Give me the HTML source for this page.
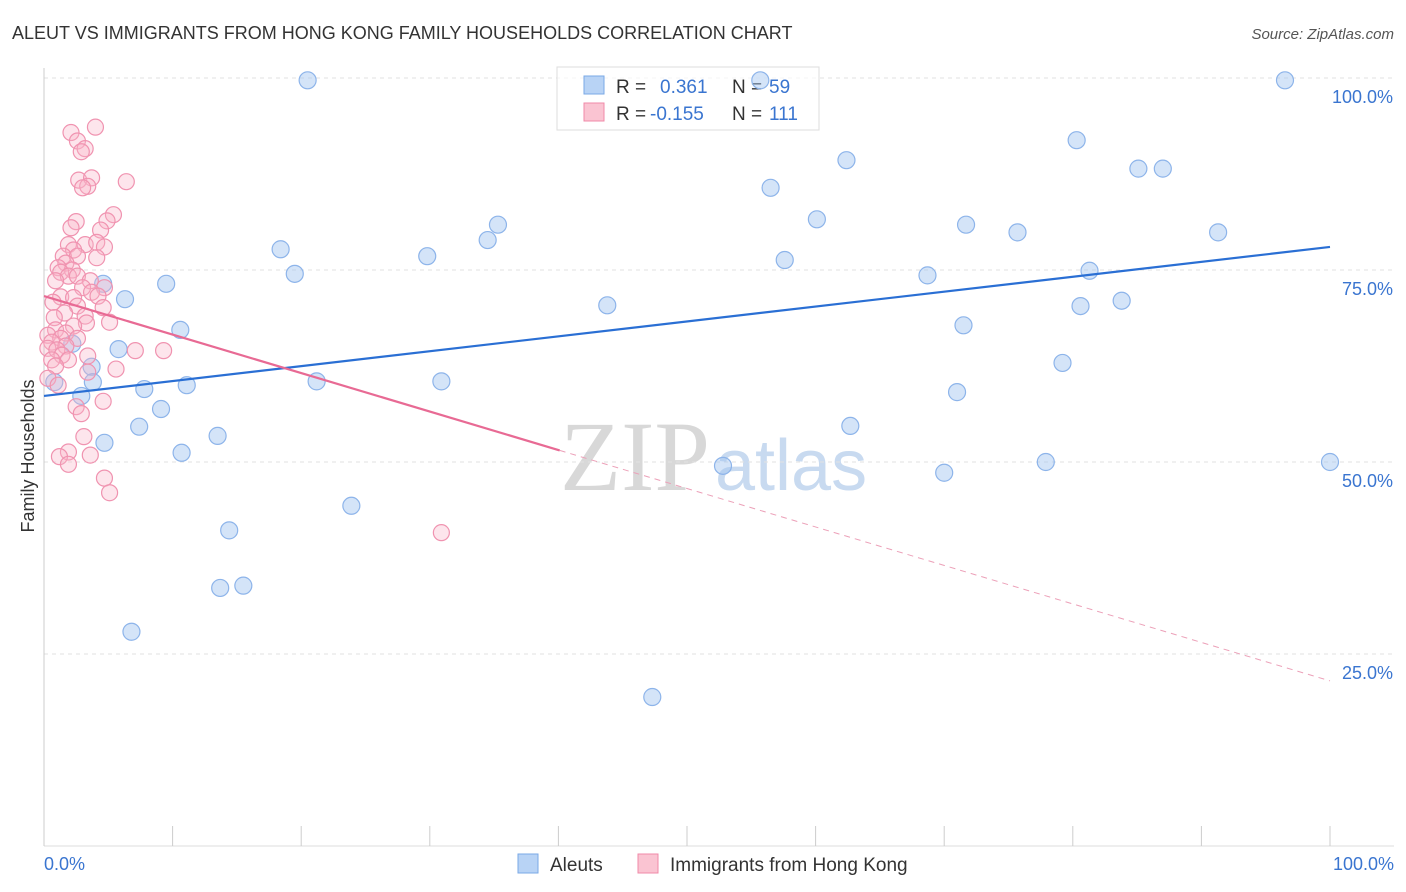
<!DOCTYPE html>
<html><head><meta charset="utf-8"><style>
body{margin:0;background:#fff;font-family:"Liberation Sans",sans-serif}
svg{display:block}
</style></head><body>
<svg id="chart" width="1406" height="892">
<text x="12" y="39" font-size="18" fill="#333">ALEUT VS IMMIGRANTS FROM HONG KONG FAMILY HOUSEHOLDS CORRELATION CHART</text>
<text x="1394" y="39" font-size="15" fill="#555" font-style="italic" text-anchor="end">Source: ZipAtlas.com</text>
<text x="560" y="490" font-size="100" fill="#d8d8d8" font-family="Liberation Serif,serif">ZIP</text>
<text x="715" y="490" font-size="72" fill="#c8daf0">atlas</text>
<text transform="translate(34,456) rotate(-90)" font-size="18" fill="#333" text-anchor="middle">Family Households</text>
<g id="grid"></g>
<g>
<rect x="557" y="67" width="262" height="63" fill="rgba(255,255,255,0.7)" stroke="#ddd"/>
<rect x="584" y="76" width="20" height="18" fill="#b8d3f5" stroke="#7aa8e6"/>
<rect x="584" y="103" width="20" height="18" fill="#fac4d2" stroke="#f08aa8"/>
<text x="616" y="93" font-size="19" fill="#333">R = </text><text x="660" y="93" font-size="19" fill="#3a75d0">0.361</text>
<text x="732" y="93" font-size="19" fill="#333">N = </text><text x="769" y="93" font-size="19" fill="#3a75d0">59</text>
<text x="616" y="120" font-size="19" fill="#333">R = </text><text x="650" y="120" font-size="19" fill="#3a75d0">-0.155</text>
<text x="732" y="120" font-size="19" fill="#333">N = </text><text x="769" y="120" font-size="19" fill="#3a75d0">111</text>
</g>
<g id="marks"></g>
<g>
<rect x="518" y="854" width="20" height="19" fill="#b8d3f5" stroke="#7aa8e6"/>
<text x="550" y="871" font-size="19" fill="#333">Aleuts</text>
<rect x="638" y="854" width="20" height="19" fill="#fac4d2" stroke="#f08aa8"/>
<text x="670" y="871" font-size="19" fill="#333">Immigrants from Hong Kong</text>
</g>
</svg>
<script>
const yTicks=[25,50,75,100];
const yTickLabels=["25.0%","50.0%","75.0%","100.0%"];
const xTicks=[0,10,20,30,40,50,60,70,80,90,100];
const aleutX=[20.5,55.7,96.5,80.3,62.4,85.1,87.0,56.5,35.3,60.1,71.7,75.7,91.3,34.5,18.4,29.8,57.6,19.5,68.7,81.3,9.5,4.6,6.3,83.8,80.6,43.8,10.6,71.5,2.2,5.8,79.2,3.7,21.2,30.9,3.8,11.1,7.8,71.0,2.9,9.1,7.4,62.7,13.5,4.7,10.7,77.9,100,52.8,70.0,23.9,14.4,13.7,15.5,6.8,47.3,0.8];
const aleutY=[99.7,99.7,99.7,91.9,89.3,88.2,88.2,85.7,80.9,81.6,80.9,79.9,79.9,78.9,77.7,76.8,76.3,74.5,74.3,74.9,73.2,73.2,71.2,71.0,70.3,70.4,67.2,67.8,65.4,64.7,62.9,62.4,60.5,60.5,60.4,60.0,59.5,59.1,58.6,56.9,54.6,54.7,53.4,52.5,51.2,50.0,50.0,49.5,48.6,44.3,41.1,33.6,33.9,27.9,19.4,60.4];
const hkX=[2.1,4.0,2.6,3.2,2.9,6.4,2.7,3.7,3.4,3.0,5.4,4.9,2.5,2.1,4.4,1.9,3.2,4.1,4.7,2.3,1.5,2.6,4.1,1.7,1.1,2.2,1.3,1.9,2.6,3.6,0.9,4.7,3.0,3.7,4.2,1.3,2.3,0.7,2.6,4.6,1.6,3.2,0.8,5.1,3.3,2.3,0.9,1.7,0.3,1.3,2.6,0.6,1.7,0.3,1.0,7.1,9.3,1.4,3.4,0.6,1.9,0.9,5.6,3.4,0.3,1.1,4.6,2.5,2.9,3.1,1.9,1.2,3.6,1.9,4.7,5.1,30.9];
const hkY=[92.9,93.6,91.8,90.8,90.4,86.5,86.7,87.0,85.9,85.7,82.2,81.4,81.3,80.5,80.2,78.3,78.3,78.6,78.0,77.6,76.8,76.8,76.6,75.9,75.3,75.0,74.7,74.2,74.2,73.6,73.6,72.7,72.7,72.1,71.6,71.5,71.4,70.8,70.3,70.1,69.4,69.0,68.8,68.2,68.1,67.7,67.2,66.8,66.5,66.1,66.1,65.6,65.1,64.8,64.6,64.5,64.5,63.9,63.8,63.3,63.3,62.5,62.1,61.7,60.9,60.0,57.9,57.2,56.3,53.3,51.3,50.7,50.9,49.7,47.9,46.0,40.8];
const blueTrend=[58.6,78.0];
const pinkTrend=[71.6,21.5];
const pinkSolidEnd=40.1;
const NS="http://www.w3.org/2000/svg";
const sx=v=>44+v*12.86, sy=v=>846-v*7.68;
function mk(tag,attrs,parent){const e=document.createElementNS(NS,tag);for(const k in attrs)e.setAttribute(k,attrs[k]);parent.appendChild(e);return e;}
const grid=document.getElementById('grid'), marks=document.getElementById('marks');
yTicks.forEach((t,i)=>{
 const l=mk('line',{x1:44,x2:1394,y1:sy(t),y2:sy(t),stroke:'#e2e2e2','stroke-dasharray':'4,4'},grid);
 
 
 const tx=mk('text',{x:1393,y:sy(t)+25,'font-size':18,fill:'#3a75d0','text-anchor':'end'},grid);
 tx.textContent=yTickLabels[i];
 
 
});
const ax=mk('line',{x1:44,x2:44,y1:68,y2:846,stroke:'#ccc'},grid);


const bx=mk('line',{x1:44,x2:1394,y1:846,y2:846,stroke:'#ddd'},grid);


xTicks.forEach(t=>{
 const l=mk('line',{x1:sx(t),x2:sx(t),y1:826,y2:846,stroke:'#ccc'},grid);
 
 
});
const xl0=mk('text',{x:44,y:870,'font-size':18,fill:'#3a75d0'},grid);xl0.textContent='0.0%';


const xl1=mk('text',{x:1394,y:870,'font-size':18,fill:'#3a75d0','text-anchor':'end'},grid);xl1.textContent='100.0%';


aleutX.forEach((x,i)=>{
 const c=mk('circle',{cx:sx(x),cy:sy(aleutY[i]),r:8.5,fill:'rgba(160,196,240,0.45)',stroke:'#8db4ea','stroke-width':1.2},marks);
 
 
});
hkX.forEach((x,i)=>{
 const c=mk('circle',{cx:sx(x),cy:sy(hkY[i]),r:8,fill:'rgba(248,180,200,0.35)',stroke:'#f093b0','stroke-width':1.2},marks);
 
 
});
const pk=x=>pinkTrend[0]+(pinkTrend[1]-pinkTrend[0])*x/100;
const b=mk('line',{x1:sx(0),y1:sy(blueTrend[0]),x2:sx(100),y2:sy(blueTrend[1]),stroke:'#2a6fd4','stroke-width':2.2},marks);


const p1=mk('line',{x1:sx(0),y1:sy(pk(0)),x2:sx(pinkSolidEnd),y2:sy(pk(pinkSolidEnd)),stroke:'#e86a94','stroke-width':2.2},marks);


const p2=mk('line',{x1:sx(pinkSolidEnd),y1:sy(pk(pinkSolidEnd)),x2:sx(100),y2:sy(pk(100)),stroke:'#eca0b8','stroke-width':1,'stroke-dasharray':'6,5'},marks);


</script>
</body></html>
